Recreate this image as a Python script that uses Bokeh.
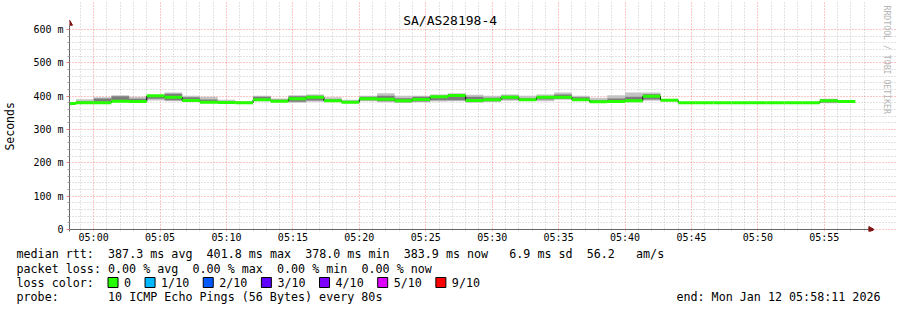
import re
import math
import pandas as pd
from bokeh.plotting import figure
from bokeh.layouts import column
from bokeh.models import (ColumnDataSource, Range1d, FixedTicker, DatetimeTickFormatter, Label)
from bokeh.core.properties import value
from bokeh.embed import file_html
from bokeh.resources import INLINE

# ---------------- data ----------------
TITLE = "SA/AS28198-4"
WINDOW_START = "2026-01-12 04:58:11"
WINDOW_END = "2026-01-12 05:58:11"
FIRST_STEP_END = "2026-01-12 04:58:40"
STEP = "80s"

median_ms = [378.0, 380, 380, 385, 384, 401, 397, 387, 382, 381,
             380, 389, 385, 392, 397, 386, 382, 392, 391, 386,
             390, 398, 401.8, 387, 389, 397, 389, 397, 397, 389,
             383, 384, 386, 400, 388, 380, 380, 380, 380, 380,
             380, 380, 380, 386, 383.9]
smoke_lo = [377.5, 379, 378, 383, 383, 387, 385, 383, 380, 380,
            379, 385, 383, 380, 383, 384, 380, 385, 382, 380,
            382, 384, 385, 380, 383, 386, 386, 385, 389, 386,
            381, 380, 382, 386, 387, 380, 380, 380, 380, 380,
            380, 380, 380, 379, 382]
smoke_hi = [379, 391, 397, 403, 398, 403, 411, 401, 398, 389,
            385, 401, 393, 403, 405, 397, 389, 401, 409, 401,
            401, 405, 409, 404, 401, 405, 401, 405, 411, 401,
            395, 403, 411, 411, 390, 380, 380, 380, 380, 380,
            380, 380, 380, 392, 385]
core_lo = [378, 380, 383, 386, 384, 392, 388, 385, 382, 381,
           380, 387, 384, 383, 387, 385, 381, 388, 385, 382,
           384, 388, 388, 383, 385, 390, 387, 390, 392, 387,
           382, 382, 384, 390, 388, 380, 380, 380, 380, 380,
           380, 380, 380, 381, 383]
core_hi = [378, 384, 393, 400, 392, 401, 407, 397, 390, 385,
           382, 398, 389, 400, 401, 391, 384, 398, 401, 394,
           398, 401, 405, 398, 395, 401, 394, 400, 405, 397,
           388, 393, 398, 406, 389, 380, 380, 380, 380, 380,
           380, 380, 380, 390, 384]

y_ticks = [0, 100, 200, 300, 400, 500, 600]
y_tick_labels = ["0", "100 m", "200 m", "300 m", "400 m", "500 m", "600 m"]
x_tick_labels = ["05:00", "05:05", "05:10", "05:15", "05:20", "05:25",
                 "05:30", "05:35", "05:40", "05:45", "05:50", "05:55"]

stat_lines = [
    "median rtt:  387.3 ms avg  401.8 ms max  378.0 ms min  383.9 ms now   6.9 ms sd  56.2   am/s",
    "packet loss: 0.00 % avg  0.00 % max  0.00 % min  0.00 % now",
]
loss_labels = ["0", "1/10", "2/10", "3/10", "4/10", "5/10", "9/10"]
loss_colors = ["#26ff00", "#00b8ff", "#0059ff", "#5e00ff", "#7e00ff", "#dd00ff", "#ff0000"]
probe_line = "probe:       10 ICMP Echo Pings (56 Bytes) every 80s"
end_text = "end: Mon Jan 12 05:58:11 2026"
watermark = "RRDTOOL / TOBI OETIKER"
y_axis_title = "Seconds"

# ---------------- layout constants (canvas pixels) ----------------
W = 897
FL = 66              # left edge of the 1-hour plot area
FB = 229             # y pixel of value 0
S_PER_PX = 4.5       # 3600 s over 800 px
MS_PER_PX = 3.0      # 600 ms over 200 px
MAIN_H = 246
FRAME_BOTTOM = 231
FONT = "DejaVu Sans Mono"
AXIS_COL = "#666666"
ARROW_COL = "#7f1010"

n = len(median_ms)
step_end = pd.date_range(FIRST_STEP_END, periods=n, freq=STEP)
step_start = step_end - pd.Timedelta(STEP)
t0 = pd.Timestamp(WINDOW_START).value / 1e6
t1 = pd.Timestamp(WINDOW_END).value / 1e6

def cx(X):
    return t0 + (X - FL) * S_PER_PX * 1000.0

def cy(Y):
    return (FB - Y) * MS_PER_PX

src = ColumnDataSource(dict(left=step_start, right=step_end, med=median_ms,
                            lo=smoke_lo, hi=smoke_hi, clo=core_lo, chi=core_hi))

p = figure(width=W, height=MAIN_H, x_axis_type="datetime", output_backend="svg",
           toolbar_location=None,
           x_range=Range1d(t0, cx(W)), y_range=Range1d(cy(FRAME_BOTTOM), cy(0)),
           min_border_left=FL, min_border_right=0, min_border_top=0,
           min_border_bottom=MAIN_H - FRAME_BOTTOM)
p.outline_line_color = None
p.background_fill_color = "white"
p.border_fill_color = "white"

# smoke + median
p.quad(left="left", right="right", bottom="lo", top="hi", source=src,
       fill_color="#c4c4c4", line_color=None)
p.quad(left="left", right="right", bottom="clo", top="chi", source=src,
       fill_color="#7c7c7c", line_color=None)
p.segment(x0=list(step_end[:-1]), x1=list(step_end[:-1]), y0=median_ms[:-1], y1=median_ms[1:],
          line_color="#000000", line_width=1)
p.segment(x0="left", x1="right", y0="med", y1="med", source=src,
          line_color="#26ff00", line_width=3)

# axes / grid
x_major = [pd.Timestamp("2026-01-12 " + s).value / 1e6 for s in x_tick_labels]
x_minor = [t.value / 1e6 for t in pd.date_range("2026-01-12 04:59", "2026-01-12 05:58", freq="60s")]
x_minor = [v for v in x_minor if v not in x_major]
p.xaxis.ticker = FixedTicker(ticks=x_major, minor_ticks=x_minor)
p.xaxis.formatter = DatetimeTickFormatter(minutes="%H:%M", hourmin="%H:%M", hours="%H:%M")
y_minor = [v for v in range(0, 601, 20) if v % 100]
p.yaxis.ticker = FixedTicker(ticks=y_ticks, minor_ticks=y_minor)
p.yaxis.major_label_overrides = {v: s for v, s in zip(y_ticks, y_tick_labels)}

for ax in (p.xaxis[0], p.yaxis[0]):
    ax.major_label_text_font = FONT
    ax.major_label_text_font_size = "10px"
    ax.major_label_text_color = "#000000"
    ax.major_tick_in = 0
    ax.minor_tick_in = 0
p.xaxis.axis_line_color = None
p.xaxis.major_tick_line_color = None
p.xaxis.minor_tick_line_color = None
p.xaxis.major_tick_out = 0
p.xaxis.minor_tick_out = 0
p.xaxis.major_label_standoff = 0

p.yaxis.axis_line_color = AXIS_COL
p.yaxis.bounds = (cy(FRAME_BOTTOM), cy(25))
p.yaxis.major_tick_out = 3
p.yaxis.minor_tick_out = 2
p.yaxis.major_tick_line_color = "#e08080"
p.yaxis.minor_tick_line_color = "#a0a0a0"
p.yaxis.major_label_standoff = 3
# the axis title is centred on the whole frame; pad it so it sits centred on the 0..600 area
p.yaxis.axis_label = y_axis_title + "\u00a0" * 3
p.yaxis.axis_label_text_font = FONT
p.yaxis.axis_label_text_font_size = "11.5px"
p.yaxis.axis_label_text_font_style = "normal"
p.yaxis.axis_label_text_color = "#000000"
p.yaxis.axis_label_standoff = 13

p.xgrid.bounds = (0, 600)
p.ygrid.bounds = (t0, t1)
for g in (p.xgrid[0], p.ygrid[0]):
    g.grid_line_color = "#ff0000"
    g.grid_line_alpha = 0.45
    g.grid_line_dash = "1 2"
    g.minor_grid_line_color = "#999999"
    g.minor_grid_line_alpha = 0.55
    g.minor_grid_line_dash = "1 2"

# x axis line and the two arrow heads
p.segment(x0=[t0], x1=[cx(868)], y0=[0], y1=[0], line_color=AXIS_COL, line_width=1)
p.scatter(x=[cx(870)], y=[0], marker="triangle", angle=-math.pi / 2, size=6,
          fill_color=ARROW_COL, line_color=ARROW_COL)
p.scatter(x=[t0], y=[cy(23)], marker="triangle", size=6,
          fill_color=ARROW_COL, line_color=ARROW_COL)

def add_label(X, Y, txt, size, align="left", color="#000000", angle=0.0):
    p.add_layout(Label(x=cx(X), y=cy(Y), text=txt, text_font=FONT,
                       text_font_size=f"{size}px", text_color=color,
                       text_align=align, text_baseline="middle", angle=angle))

add_label(448, 20, TITLE, 13, align="center")
add_label(886, 5, watermark, 8.2, align="left", color="#b4b4b4", angle=-math.pi / 2)

# ---------------- legend strip ----------------
LEG_H = 310 - MAIN_H
q = figure(width=W, height=LEG_H, output_backend="svg", toolbar_location=None,
           x_range=Range1d(0, W), y_range=Range1d(LEG_H, 0),
           x_axis_location=None, y_axis_location=None, min_border=0,
           min_border_left=0, min_border_right=0, min_border_top=0, min_border_bottom=0)
q.outline_line_color = None
q.grid.visible = False
q.background_fill_color = "white"
q.border_fill_color = "white"

for fig in (p, q):
    if "frame_align" in fig.properties():
        fig.frame_align = False

CW = 7.04
LX = 16
row_y = [253 - MAIN_H, 268 - MAIN_H, 282 - MAIN_H, 296 - MAIN_H]

tx, ty, tt = [], [], []
def add_line(line, y):
    for m in re.finditer(r"\S+(?: \S+)*", line):
        tx.append(LX + m.start() * CW)
        ty.append(y)
        tt.append(m.group(0))

for line, y in zip(stat_lines, row_y[:2]):
    add_line(line, y)
add_line("loss color:", row_y[2])
bx = LX + 13 * CW
box_l, box_r = [], []
for lab in loss_labels:
    box_l.append(bx)
    box_r.append(bx + 10)
    tx.append(bx + 16)
    ty.append(row_y[2])
    tt.append(lab)
    bx += 16 + len(lab) * CW + 14
add_line(probe_line, row_y[3])

q.text(x=tx, y=ty, text=tt, text_font=value(FONT), text_font_size=value("11.7px"),
       text_baseline="middle", text_align="left", text_color="#000000")
q.text(x=[880], y=[row_y[3]], text=[end_text], text_font=value(FONT),
       text_font_size=value("11.7px"), text_baseline="middle", text_align="right",
       text_color="#000000")
q.quad(left=box_l, right=box_r, top=[row_y[2] - 5] * len(box_l),
       bottom=[row_y[2] + 5] * len(box_l), fill_color=loss_colors,
       line_color="#000000", line_width=1)

layout = column(p, q, spacing=0)
open("out.html", "w").write(file_html(layout, INLINE))
